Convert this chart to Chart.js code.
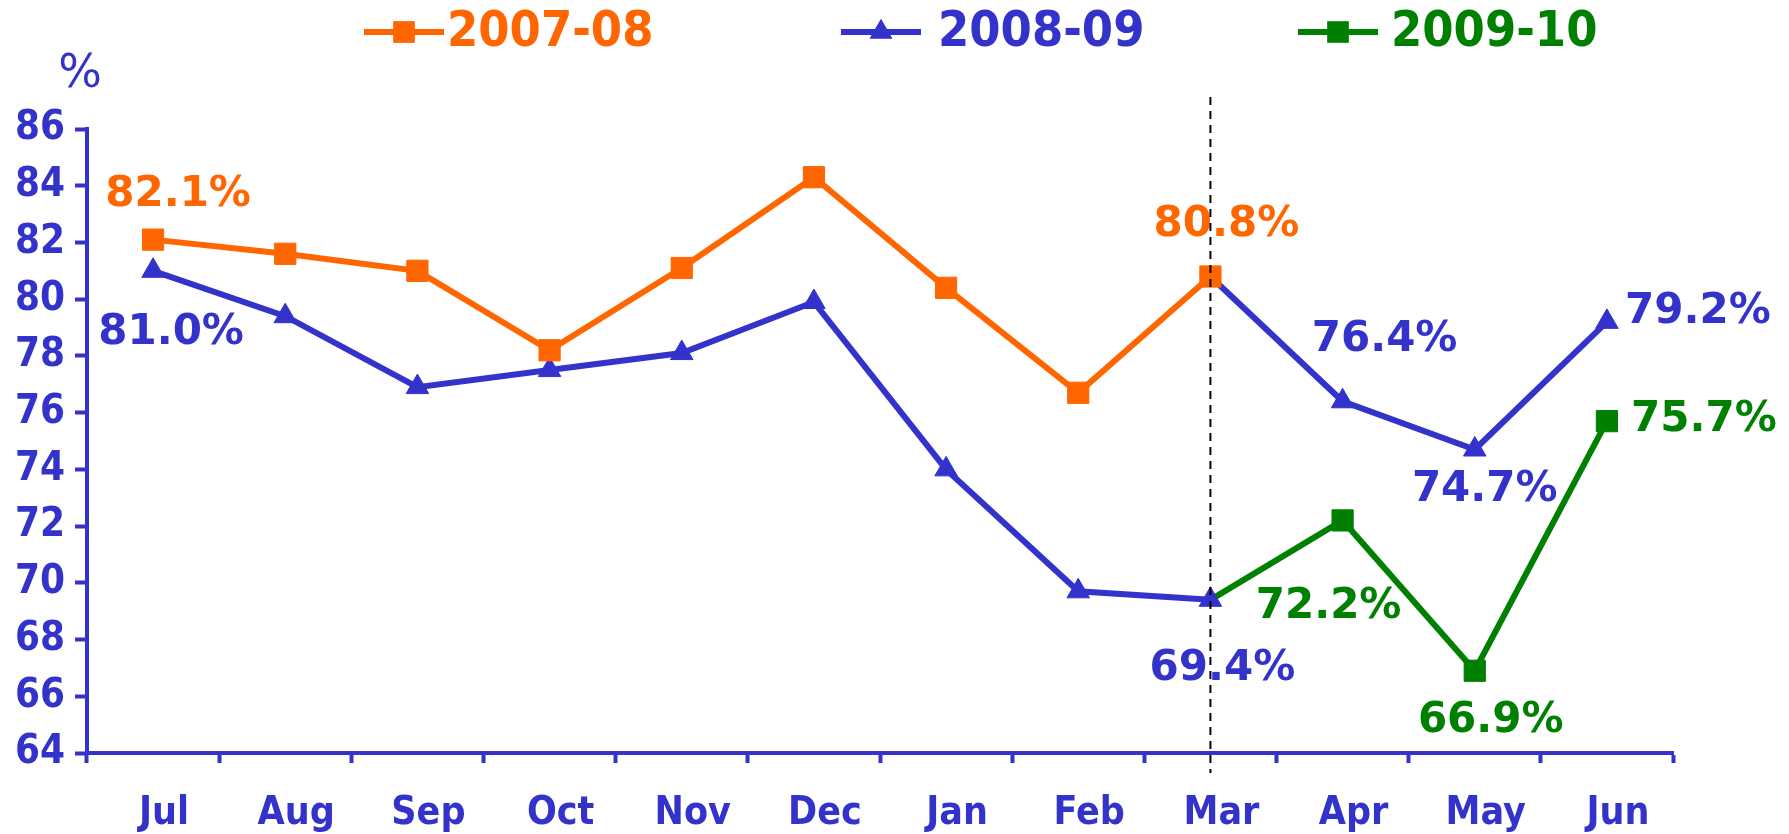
<!DOCTYPE html>
<html><head><meta charset="utf-8">
<script src="https://cdn.jsdelivr.net/npm/chart.js@4/dist/chart.umd.min.js"></script>
<style>html,body{margin:0;padding:0;background:#fff;}</style>
</head><body>
<canvas id="c" width="1789" height="834"></canvas>
<script>
// ---- data ----
const months = ['Jul','Aug','Sep','Oct','Nov','Dec','Jan','Feb','Mar','Apr','May','Jun'];
const series0708 = [82.1, 81.6, 81.0, 78.2, 81.1, 84.3, 80.4, 76.7, 80.8, null, null, null];
const series0809 = [81.0, 79.4, 76.9, 77.5, 78.1, 79.9, 74.0, 69.7, 69.4, null, null, null];
const series0809Cont = [null, null, null, null, null, null, null, null, 80.8, 76.4, 74.7, 79.2];
const series0910 = [null, null, null, null, null, null, null, null, 69.4, 72.2, 66.9, 75.7];
const yMin = 64, yMax = 86, yStep = 2;
const legendNames = ['2007-08', '2008-09', '2009-10'];

// ---- styles ----
const ORANGE = '#FF6600', BLUE = '#3333CC', GREEN = '#008000';
function hasFont(name) {
  const c = document.createElement('canvas').getContext('2d');
  const s = 'Dec2008-09%Jul';
  c.font = 'bold 40px monospace'; const a = c.measureText(s).width;
  c.font = "bold 40px '" + name + "', monospace"; const b = c.measureText(s).width;
  return Math.abs(a - b) > 0.5;
}
const FONT = "'DejaVu Sans'";
const CFONT = hasFont('DejaVu Sans Condensed') ? "'DejaVu Sans Condensed'" : "'Liberation Sans'";

// labels: dataset index, point index, pixel offset from the point
const labelSpecs = [
  {ds:0, i:0, dx:25, dy:-45},
  {ds:0, i:8, dx:16, dy:-51},
  {ds:1, i:0, dx:18, dy:62},
  {ds:1, i:8, dx:12, dy:69},
  {ds:2, i:9, dx:42, dy:-61},
  {ds:2, i:10, dx:10, dy:41},
  {ds:2, i:11, dx:91, dy:-10},
  {ds:3, i:9, dx:-14, dy:87},
  {ds:3, i:10, dx:16, dy:50},
  {ds:3, i:11, dx:97, dy:-1}
];

function radii(arr, r, hideIdx) {
  return arr.map((v, i) => (i === hideIdx ? 0 : r));
}

const legendPlugin = {
  id: 'customLegend',
  afterDraw(chart) {
    const ctx = chart.ctx;
    const items = [
      {name: legendNames[0], color: ORANGE, style: 'rect', x: 364, tx: 447},
      {name: legendNames[1], color: BLUE, style: 'triangle', x: 841, tx: 938},
      {name: legendNames[2], color: GREEN, style: 'rect', x: 1298, tx: 1391}
    ];
    const y = 32;
    ctx.save();
    items.forEach(it => {
      ctx.strokeStyle = it.color; ctx.lineWidth = 6;
      ctx.beginPath(); ctx.moveTo(it.x, y); ctx.lineTo(it.x + 80, y); ctx.stroke();
      ctx.fillStyle = it.color;
      Chart.helpers.drawPoint(ctx, {pointStyle: it.style, radius: it.style === 'rect' ? 15 : 13, rotation: 0, borderWidth: 0}, it.x + 40, y);
      ctx.fill();
      ctx.font = 'bold 50px ' + CFONT;
      ctx.textAlign = 'left'; ctx.textBaseline = 'middle';
      ctx.fillText(it.name, it.tx, y + 1);
    });
    // unit
    ctx.fillStyle = BLUE;
    ctx.font = '46px ' + FONT;
    ctx.textAlign = 'center'; ctx.textBaseline = 'middle';
    ctx.fillText('%', 80, 75);
    ctx.restore();
  }
};

const labelPlugin = {
  id: 'valueLabels',
  afterDatasetsDraw(chart) {
    const ctx = chart.ctx;
    ctx.save();
    ctx.font = 'bold 42px ' + FONT;
    ctx.textAlign = 'center'; ctx.textBaseline = 'middle';
    labelSpecs.forEach(s => {
      const ds = chart.data.datasets[s.ds];
      const el = chart.getDatasetMeta(s.ds).data[s.i];
      const v = ds.data[s.i];
      ctx.fillStyle = ds.borderColor;
      ctx.fillText(v.toFixed(1) + '%', el.x + s.dx, el.y + s.dy);
    });
    ctx.restore();
  }
};

const dashPlugin = {
  id: 'dashLine',
  afterDraw(chart) {
    const ctx = chart.ctx;
    const x = chart.scales.x.getPixelForValue(months.indexOf('Mar'));
    const a = chart.chartArea;
    ctx.save();
    ctx.strokeStyle = '#000'; ctx.lineWidth = 2; ctx.setLineDash([8, 6]);
    ctx.beginPath(); ctx.moveTo(x, a.top - 32); ctx.lineTo(x, a.bottom + 20); ctx.stroke();
    ctx.restore();
  }
};

new Chart(document.getElementById('c'), {
  type: 'line',
  data: {
    labels: months,
    datasets: [
      {label: legendNames[0], data: series0708, borderColor: ORANGE, backgroundColor: ORANGE,
       borderWidth: 6, pointStyle: 'rect', pointRadius: 15, pointBorderWidth: 1, tension: 0},
      {label: legendNames[1], data: series0809, borderColor: BLUE, backgroundColor: BLUE,
       borderWidth: 6, pointStyle: 'triangle', pointRadius: 13, pointBorderWidth: 1, tension: 0},
      {label: legendNames[1] + ' cont', data: series0809Cont, borderColor: BLUE, backgroundColor: BLUE,
       borderWidth: 6, pointStyle: 'triangle', pointRadius: radii(series0809Cont, 13, 8), pointBorderWidth: 1, tension: 0},
      {label: legendNames[2], data: series0910, borderColor: GREEN, backgroundColor: GREEN,
       borderWidth: 6, pointStyle: 'rect', pointRadius: radii(series0910, 15, 8), pointBorderWidth: 1, tension: 0}
    ]
  },
  options: {
    responsive: false,
    animation: false,
    layout: {padding: {left: 0, right: 116, top: 129, bottom: 0}},
    plugins: {legend: {display: false}, tooltip: {enabled: false}},
    scales: {
      x: {
        offset: true,
        grid: {offset: true, drawOnChartArea: false, drawTicks: true, tickLength: 10, tickColor: BLUE, tickWidth: 4},
        border: {color: BLUE, width: 4},
        ticks: {color: BLUE, font: {family: CFONT, size: 39, weight: 'bold'}, padding: 27, labelOffset: 11, maxRotation: 0, autoSkip: false},
        afterFit(s) { s.height = 81; }
      },
      y: {
        min: yMin, max: yMax,
        grid: {drawOnChartArea: false, drawTicks: true, tickLength: 12, tickColor: BLUE, tickWidth: 4},
        border: {color: BLUE, width: 4},
        ticks: {stepSize: yStep, color: BLUE, font: {family: CFONT, size: 40, weight: 'bold'}, padding: 10},
        afterFit(s) { s.width = 87; }
      }
    }
  },
  plugins: [legendPlugin, labelPlugin, dashPlugin]
});
</script>
</body></html>
